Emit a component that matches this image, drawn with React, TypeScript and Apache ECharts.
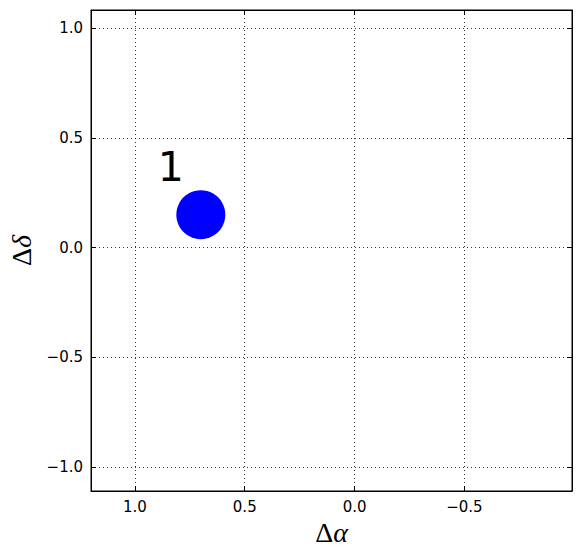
import React, { useEffect, useRef } from "react";
import * as echarts from "echarts";

const pointX = [0.7];
const pointY = [0.15];
const pointLabels = ["1"];
const xTicks = [1.0, 0.5, 0.0, -0.5];
const yTicks = [1.0, 0.5, 0.0, -0.5, -1.0];
const xRange = [-0.99, 1.2];
const yRange = [-1.11, 1.083];

const fmt = (v: number) => {
  const s = Math.abs(v).toFixed(1);
  return v < -1e-9 ? "\u2212" + s : s;
};

export default function App() {
  const ref = useRef<HTMLDivElement>(null);
  useEffect(() => {
    if (!ref.current) return;
    const chart = echarts.init(ref.current, null, { renderer: "svg" });
    const labelStyle = { color: "#000", fontSize: 15, fontFamily: "DejaVu Sans" };
    const gridLine = { color: "#000", width: 1, type: [1, 3] as any, opacity: 0.8 };
    const nameRich = {
      a: { fontFamily: "Liberation Serif", fontSize: 28, color: "#000" },
      b: { fontFamily: "Liberation Serif", fontStyle: "italic", fontSize: 28, color: "#000" },
    };
    const tickCommon = { inside: true, length: 5, lineStyle: { color: "#000", width: 1 } };
    const axisLine = { show: true, onZero: false, lineStyle: { color: "#000", width: 1 } };
    chart.setOption({
      animation: false,
      backgroundColor: "#fff",
      grid: {
        left: 91, right: 8, top: 10, bottom: 67,
        containLabel: false, outerBoundsMode: "none",
        show: true, borderColor: "#000", borderWidth: 1, backgroundColor: "transparent",
      },
      xAxis: [
        {
          type: "value",
          inverse: true,
          min: xRange[0],
          max: xRange[1],
          position: "bottom",
          axisLine,
          axisTick: { show: true, ...tickCommon, customValues: xTicks },
          axisLabel: { ...labelStyle, margin: 8, customValues: xTicks, formatter: (v: number) => fmt(v) },
          splitLine: { show: false },
          name: "{a|\u0394}{b|\u03b1}",
          nameLocation: "middle",
          nameGap: 27,
          nameTextStyle: { rich: nameRich },
        },
        {
          type: "value",
          inverse: true,
          min: xRange[0],
          max: xRange[1],
          position: "top",
          axisLine,
          axisTick: { show: true, ...tickCommon, customValues: xTicks },
          axisLabel: { show: false },
          splitLine: { show: false },
        },
      ],
      yAxis: [
        {
          type: "value",
          min: yRange[0],
          max: yRange[1],
          position: "left",
          axisLine,
          axisTick: { show: true, ...tickCommon, customValues: yTicks },
          axisLabel: { ...labelStyle, margin: 8, customValues: yTicks, formatter: (v: number) => fmt(v) },
          splitLine: { show: false },
          name: "{a|\u0394}{b|\u03b4}",
          nameLocation: "middle",
          nameRotate: 90,
          nameGap: 56,
          nameTextStyle: { rich: nameRich },
        },
        {
          type: "value",
          min: yRange[0],
          max: yRange[1],
          position: "right",
          axisLine,
          axisTick: { show: true, ...tickCommon, customValues: yTicks },
          axisLabel: { show: false },
          splitLine: { show: false },
        },
      ],
      series: [
        {
          type: "scatter",
          xAxisIndex: 0,
          yAxisIndex: 0,
          data: pointX.map((x, i) => [x, pointY[i], pointLabels[i]]),
          symbol: "circle",
          symbolSize: 49,
          itemStyle: { color: "#0000ff", opacity: 1 },
          label: {
            show: true,
            position: "inside",
            offset: [-30, -48],
            formatter: (p: any) => p.value[2],
            color: "#000",
            fontSize: 41,
            fontFamily: "DejaVu Sans",
          },
          markLine: {
            silent: true,
            symbol: "none",
            label: { show: false },
            lineStyle: gridLine,
            data: [
              ...xTicks.map((v) => ({ xAxis: v })),
              ...yTicks.map((v) => ({ yAxis: v })),
            ],
          },
          z: 3,
        },
      ],
    });
    return () => chart.dispose();
  }, []);
  return <div ref={ref} style={{ position: "fixed", left: 0, top: 0, width: 580, height: 558 }} />;
}
